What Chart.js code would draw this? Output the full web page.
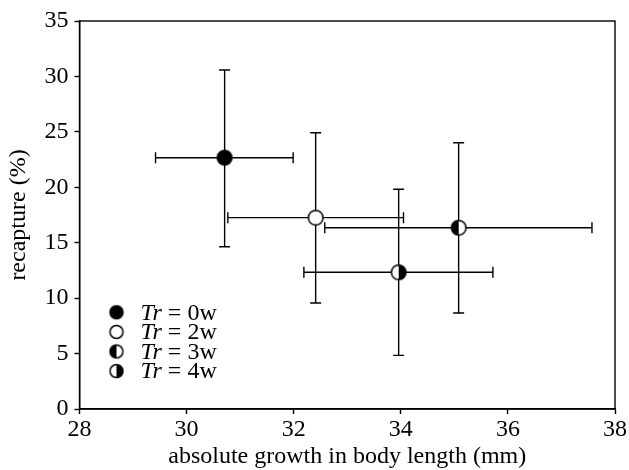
<!DOCTYPE html>
<html>
<head>
<meta charset="utf-8">
<script src="https://cdn.jsdelivr.net/npm/chart.js@4.4.0/dist/chart.umd.min.js"></script>
<style>
  html, body { margin: 0; padding: 0; background: #fff; }
  #chart { display: block; }
</style>
</head>
<body>
<canvas id="chart" width="629" height="470"></canvas>
<script>
(function () {
    "use strict";

    // treatment groups (Tr in weeks)
    const weeks = [0, 2, 3, 4];
    const markers = ['filled', 'open', 'leftHalf', 'rightHalf'];

    // absolute growth in body length (mm): mean and error bar ends
    const growth = [30.71, 32.41, 35.08, 33.96];
    const growthLow = [29.42, 30.77, 32.58, 32.19];
    const growthHigh = [31.99, 34.05, 37.57, 35.72];

    // recapture (%): mean and error bar ends
    const recapture = [22.67, 17.26, 16.35, 12.33];
    const recaptureLow = [14.64, 9.56, 8.66, 4.84];
    const recaptureHigh = [30.58, 24.92, 24.02, 19.82];

    const xTicks = [28, 30, 32, 34, 36, 38];
    const yTicks = [0, 5, 10, 15, 20, 25, 30, 35];

    const FONT = '"Liberation Serif", "DejaVu Serif", serif';
    const FONT_SIZE = 24;
    const INK = '#000000';

    /**
     * Builds a small canvas used as a point style (full, open or half filled circle)
     */
    function makeMarker(kind, r) {
        const lw = 1.5;
        const size = Math.ceil(2 * r + 2 * lw + 2);
        const c = document.createElement('canvas');
        c.width = size;
        c.height = size;
        const ctx = c.getContext('2d');
        const cx = size / 2, cy = size / 2;
        ctx.beginPath();
        ctx.arc(cx, cy, r, 0, Math.PI * 2);
        ctx.fillStyle = (kind === 'filled') ? INK : '#ffffff';
        ctx.fill();
        if (kind === 'leftHalf' || kind === 'rightHalf') {
            ctx.beginPath();
            if (kind === 'leftHalf') {
                ctx.arc(cx, cy, r, Math.PI / 2, Math.PI * 1.5);
            } else {
                ctx.arc(cx, cy, r, -Math.PI / 2, Math.PI / 2);
            }
            ctx.closePath();
            ctx.fillStyle = INK;
            ctx.fill();
        }
        ctx.beginPath();
        ctx.arc(cx, cy, r, 0, Math.PI * 2);
        ctx.lineWidth = lw;
        ctx.strokeStyle = INK;
        ctx.stroke();
        return c;
    }

    const plotMarkers = markers.map(m => makeMarker(m, 7.3));
    const legendMarkers = markers.map(m => makeMarker(m, 6.5));

    //Error bars drawn under the points, through the chart's scales
    const errorBars = {
        id: 'errorBars',
        beforeDatasetsDraw(chart) {
            const ctx = chart.ctx;
            const xs = chart.scales.x, ys = chart.scales.y;
            const cap = 5.5;
            ctx.save();
            ctx.strokeStyle = INK;
            ctx.lineWidth = 1.4;
            weeks.forEach((w, i) => {
                const px = xs.getPixelForValue(growth[i]);
                const py = ys.getPixelForValue(recapture[i]);
                const x0 = xs.getPixelForValue(growthLow[i]);
                const x1 = xs.getPixelForValue(growthHigh[i]);
                const y0 = ys.getPixelForValue(recaptureLow[i]);
                const y1 = ys.getPixelForValue(recaptureHigh[i]);
                ctx.beginPath();
                ctx.moveTo(x0, py); ctx.lineTo(x1, py);
                ctx.moveTo(x0, py - cap); ctx.lineTo(x0, py + cap);
                ctx.moveTo(x1, py - cap); ctx.lineTo(x1, py + cap);
                ctx.moveTo(px, y0); ctx.lineTo(px, y1);
                ctx.moveTo(px - cap, y0); ctx.lineTo(px + cap, y0);
                ctx.moveTo(px - cap, y1); ctx.lineTo(px + cap, y1);
                ctx.stroke();
            });
            ctx.restore();
        }
    };

    //Box around plot area and the legend in the lower left
    const frameAndLegend = {
        id: 'frameAndLegend',
        afterDraw(chart) {
            const ctx = chart.ctx;
            const a = chart.chartArea;
            ctx.save();
            ctx.strokeStyle = INK;
            ctx.lineWidth = 1.4;
            ctx.strokeRect(a.left, a.top, a.right - a.left, a.bottom - a.top);

            const mx = a.left + 37;
            const tx = a.left + 61;
            const top = a.bottom - 96.7;
            const step = 19.6;
            ctx.fillStyle = INK;
            ctx.textBaseline = 'middle';
            weeks.forEach((w, i) => {
                const y = top + i * step;
                const img = legendMarkers[i];
                ctx.drawImage(img, mx - img.width / 2, y - img.height / 2);
                ctx.font = 'italic ' + FONT_SIZE + 'px ' + FONT;
                ctx.fillText('Tr', tx, y + 1);
                const wTr = ctx.measureText('Tr').width;
                ctx.font = FONT_SIZE + 'px ' + FONT;
                ctx.fillText(' = ' + w + 'w', tx + wTr, y + 1);
            });
            ctx.restore();
        }
    };

    const datasets = weeks.map((w, i) => ({
        label: 'Tr = ' + w + 'w',
        data: [{ x: growth[i], y: recapture[i] }],
        pointStyle: plotMarkers[i],
        pointRadius: 7,
        pointHoverRadius: 7
    }));

    new Chart(document.getElementById('chart'), {
        type: 'scatter',
        data: { datasets: datasets },
        options: {
            animation: false,
            responsive: false,
            events: [],
            layout: { padding: { top: 21, right: 14, left: 0, bottom: 0 } },
            plugins: {
                legend: { display: false },
                tooltip: { enabled: false }
            },
            scales: {
                x: {
                    type: 'linear',
                    min: 28,
                    max: 38,
                    afterBuildTicks: s => { s.ticks = xTicks.map(v => ({ value: v })); },
                    afterFit: s => { s.height = 61; },
                    ticks: { color: INK, font: { family: FONT, size: FONT_SIZE }, padding: 1 },
                    grid: { drawOnChartArea: false, drawTicks: true, tickLength: 5, tickWidth: 1.4, color: INK },
                    border: { display: true, color: INK, width: 1.4 },
                    title: {
                        display: true,
                        text: 'absolute growth in body length (mm)',
                        color: INK,
                        font: { family: FONT, size: FONT_SIZE, lineHeight: 1.0 },
                        padding: { top: 0, bottom: 1 }
                    }
                },
                y: {
                    type: 'linear',
                    min: 0,
                    max: 35,
                    afterBuildTicks: s => { s.ticks = yTicks.map(v => ({ value: v })); },
                    afterFit: s => { s.width = 79.5; },
                    ticks: { color: INK, font: { family: FONT, size: FONT_SIZE }, padding: 6 },
                    grid: { drawOnChartArea: false, drawTicks: true, tickLength: 5, tickWidth: 1.4, color: INK },
                    border: { display: true, color: INK, width: 1.4 },
                    title: {
                        display: true,
                        text: 'recapture (%)',
                        color: INK,
                        font: { family: FONT, size: FONT_SIZE, lineHeight: 1.2 },
                        padding: { top: 4, bottom: 0 }
                    }
                }
            }
        },
        plugins: [errorBars, frameAndLegend]
    });
})();
</script>
</body>
</html>
